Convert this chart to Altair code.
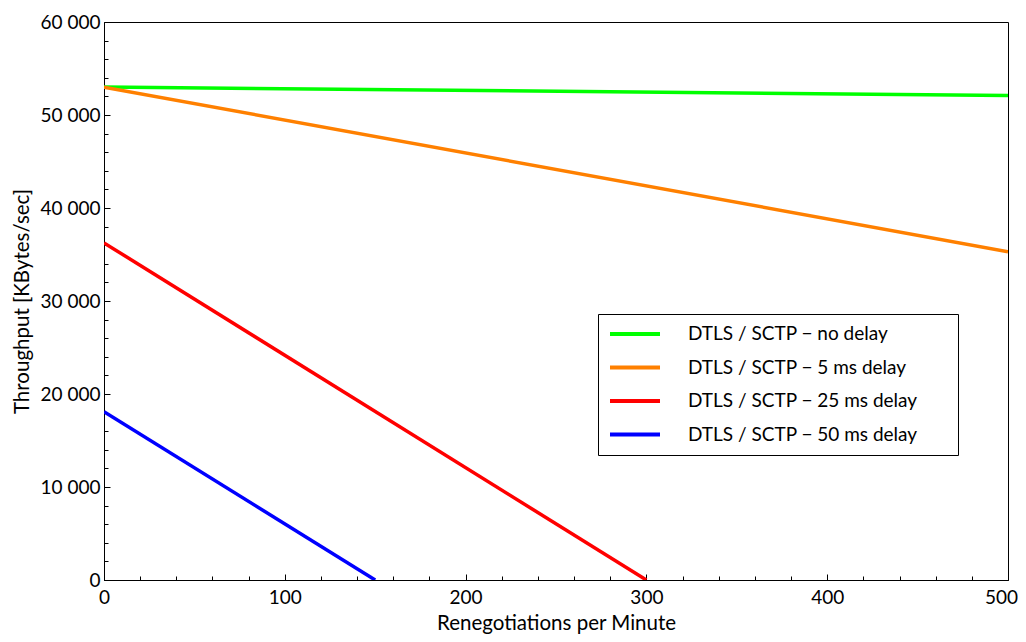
import altair as alt
import pandas as pd

# ---- data ----
series = [
    "DTLS / SCTP − no delay",
    "DTLS / SCTP − 5 ms delay",
    "DTLS / SCTP − 25 ms delay",
    "DTLS / SCTP − 50 ms delay",
]
colors = ["#00ff00", "#ff8000", "#ff0000", "#0000ff"]
x_start = [0, 0, 0, 0]
x_end = [500, 500, 300, 150]
y_start = [53000, 53000, 36250, 18100]
y_end = [52100, 35300, 0, 0]

x_major = [0, 100, 200, 300, 400, 500]
x_minor = list(range(0, 501, 20))
y_major = [0, 10000, 20000, 30000, 40000, 50000, 60000]
y_minor = list(range(0, 60001, 2000))

rows = []
for s, xa, xb, ya, yb in zip(series, x_start, x_end, y_start, y_end):
    rows.append({"series": s, "x": xa, "y": ya, "order": 0})
    rows.append({"series": s, "x": xb, "y": yb, "order": 1})
df = pd.DataFrame(rows)

FONT = "Lato"
FS = 19
TFS = 20.5

x_scale = alt.Scale(domain=[0, 500], nice=False, zero=False)
y_scale = alt.Scale(domain=[0, 60000], nice=False)

num_expr = "replace(format(datum.value, ','), ',', ' ')"

lines = alt.Chart(df).mark_line(strokeWidth=3.5, clip=True).encode(
    x=alt.X(
        "x:Q",
        scale=x_scale,
        axis=alt.Axis(
            orient="bottom", values=x_major, tickSize=6, offset=-6, domain=False,
            grid=False, labelPadding=8, labelFontSize=FS, labelFont=FONT,
            labelColor="black", tickColor="black", tickWidth=1, labelFlush=False,
            labelOffset={"condition": {"test": "datum.value === 500", "value": -7}, "value": 0},
            title="Renegotiations per Minute", titleFontSize=TFS, titleFont=FONT,
            titleFontWeight="normal", titleColor="black", titlePadding=6,
        ),
    ),
    y=alt.Y(
        "y:Q",
        scale=y_scale,
        axis=alt.Axis(
            orient="left", values=y_major, tickSize=6, offset=-6, domain=False,
            grid=False, labelPadding=4, labelFontSize=FS, labelFont=FONT,
            labelColor="black", tickColor="black", tickWidth=1, labelFlush=False,
            labelExpr=num_expr,
            title="Throughput [KBytes/sec]", titleFontSize=TFS, titleFont=FONT,
            titleFontWeight="normal", titleColor="black", titlePadding=8,
        ),
    ),
    color=alt.Color(
        "series:N",
        scale=alt.Scale(domain=series, range=colors),
        legend=alt.Legend(
            orient="none", legendX=494, legendY=292,
            title="x", titleOrient="right", titleOpacity=0, titleFontSize=10,
            titlePadding=24,
            symbolType="stroke", symbolSize=2500, symbolStrokeWidth=4,
            labelFontSize=FS, labelFont=FONT, labelColor="black",
            labelOffset=26, padding=10, rowPadding=13.5, clipHeight=20,
            strokeColor="black", fillColor="white", labelLimit=0,
        ),
    ),
    order="order:Q",
)

minor = alt.Chart(df).mark_line(opacity=0).encode(
    x=alt.X(
        "x:Q",
        scale=x_scale,
        axis=alt.Axis(
            orient="bottom", values=x_minor, tickSize=4, offset=-4, domain=False,
            grid=False, labels=False, title=None, tickColor="black", tickWidth=1,
        ),
    ),
    y=alt.Y(
        "y:Q",
        scale=y_scale,
        axis=alt.Axis(
            orient="left", values=y_minor, tickSize=4, offset=-4, domain=False,
            grid=False, labels=False, title=None, tickColor="black", tickWidth=1,
        ),
    ),
)

chart = (
    alt.layer(lines, minor)
    .resolve_axis(x="independent", y="independent")
    .properties(
        width=904,
        height=558,
        autosize=alt.AutoSizeParams(type="none"),
        padding={"left": 96, "top": 14, "right": 10, "bottom": 54},
        background="white",
    )
    .configure_view(stroke="black", strokeWidth=1)
)

chart.save("out.html", embed_options={"renderer": "svg", "actions": False})
